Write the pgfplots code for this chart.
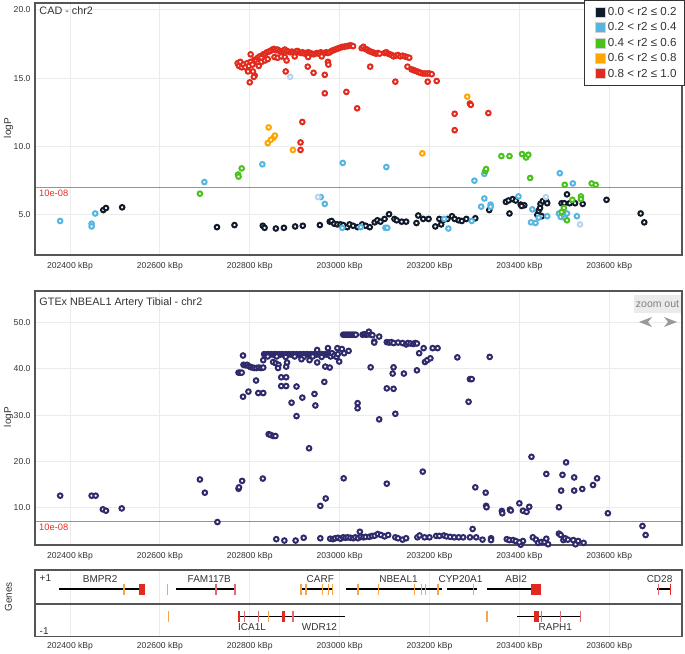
\documentclass[border=0pt]{standalone}
\usepackage{pgfplots}
\pgfplotsset{compat=1.18}
\usepackage{fontspec}
\setmainfont{Liberation Sans}
\definecolor{cblack}{HTML}{111A2B}
\definecolor{cblue}{HTML}{57B5DF}
\definecolor{cpale}{HTML}{B8D4EF}
\definecolor{cgreen}{HTML}{4AC21C}
\definecolor{corange}{HTML}{FFA500}
\definecolor{cred}{HTML}{E22A1E}
\definecolor{cpurple}{HTML}{2E2A6C}
\definecolor{cgrid}{HTML}{EBEBEB}
\definecolor{cframe}{HTML}{555555}
\definecolor{ctext}{HTML}{333333}
\definecolor{cthreshtxt}{HTML}{E0302A}
\definecolor{cexo}{HTML}{F5A54A}
\definecolor{cexp}{HTML}{DE6B74}
\definecolor{cexr}{HTML}{E3291F}
\pgfplotsset{
  panel/.style={
    scale only axis, width=647pt, xmin=202322, xmax=203762,
    scaled x ticks=false, scaled y ticks=false,
    axis line style={draw=cframe, line width=1.5pt},
    grid=major, major grid style={draw=cgrid, line width=1pt},
    major tick length=0pt,
    xtick={202400,202600,202800,203000,203200,203400,203600},
    xticklabels={202400 kBp,202600 kBp,202800 kBp,203000 kBp,203200 kBp,203400 kBp,203600 kBp},
    tick label style={font=\fontsize{8.6}{10}\selectfont, text=ctext},
    yticklabel style={xshift=-1pt},
  },
  thr/.style={draw=red, draw opacity=0.6, solid, line width=1.6pt, mark=none},
  pts/.style={only marks, mark=*, mark size=2.3pt, mark options={draw=#1, fill=white, line width=2pt}},
  legsq/.style={legend image code/.code={\path (-5pt,0pt); \draw[fill=#1, draw=gray!35, line width=0.6pt] (0pt,-5pt) rectangle (10pt,5pt);}},
}
\newcommand{\gf}{\fontsize{10}{11}\selectfont}
\begin{document}
\begin{tikzpicture}[x=1pt,y=1pt]
\useasboundingbox (0,0) rectangle (685,653);
% ---------------- top panel ----------------
\begin{axis}[panel, at={(35pt,398pt)}, anchor=south west, height=252pt,
  xticklabel style={yshift=-3.5pt},
  ymin=2.06, ymax=20.51, ytick={5,10,15,20}, yticklabels={5.0,10.0,15.0,20.0},
  legend style={at={(1.0046,1.012)}, anchor=north east, draw=ctext, line width=0.8pt,
    fill=white, font=\fontsize{11.6}{13}\selectfont, text=ctext, row sep=1.8pt,
    inner xsep=6pt, inner ysep=5pt, cells={anchor=west}},
  legend cell align=left]
\addplot[thr, forget plot] coordinates {(202322,7) (203762,7)};
\node[anchor=north west, inner sep=0pt, text=cthreshtxt, font=\fontsize{9.3}{10}\selectfont, yshift=-2.5pt] at (axis cs:202331,7) {10e-08};
\node[anchor=north west, inner sep=0pt, text=ctext, font=\fontsize{10.8}{12}\selectfont, xshift=4.3pt, yshift=-3pt] at (rel axis cs:0,1) {CAD - chr2};
% r2 0.0-0.2
\addplot[pts=cblack, forget plot] coordinates {
(202474,5.35) (202480,5.5) (202516,5.55) (202727,4.1) (202766,4.25) (202829,4.2) (202833,4.05) (202858,4.0) (202876,4.05) (202901,4.15) (202918,4.2) (202956,4.25) (202978,4.5) (202982,4.55) (202988,4.35) (202995,4.3) (203002,4.3) (203008,4.25) (203017,4.1) (203022,4.3) (203030,4.2) (203040,4.1) (203050,4.3) (203058,4.2) (203067,4.1) (203078,4.45) (203084,4.6) (203091,4.5) (203100,4.7) (203110,5.05) (203122,4.7) (203127,4.6) (203138,4.5) (203148,4.5) (203171,4.4) (203175,4.95) (203186,4.7) (203198,4.7) (203213,4.15) (203222,4.7) (203226,4.3) (203230,4.6) (203240,4.7) (203250,4.9) (203256,4.7) (203265,4.6) (203272,4.55) (203282,4.7) (203302,4.75) (203333,5.35) (203370,5.95) (203376,6.05) (203385,6.15) (203392,6.05) (203403,5.75) (203411,5.7) (203405,5.65) (203378,5.1) (203440,5.0) (203443,5.3) (203450,4.9) (203447,5.8) (203452,6.0) (203460,6.0) (203462,5.85) (203446,5.5) (203494,5.85) (203500,5.85) (203506,6.5) (203512,5.85) (203524,5.85) (203541,5.8) (203594,6.1) (203670,5.1) (203678,4.45)};
% r2 0.2-0.4
\addplot[pts=cblue, forget plot] coordinates {
(202378,4.55) (202448,4.35) (202448,4.15) (202456,5.1) (202699,7.4) (202828,8.7) (202958,6.3) (202967,5.8) (203007,8.8) (203006,4.05) (203047,4.1) (203102,4.05) (203106,4.05) (203104,8.5) (203233,4.7) (203242,4.0) (203294,4.55) (203300,7.5) (203322,6.2) (203322,8.0) (203315,5.6) (203336,5.75) (203336,5.6) (203398,6.35) (203429,5.4) (203426,4.45) (203436,4.4) (203443,4.8) (203462,4.9) (203490,8.05) (203519,7.3) (203488,5.1) (203492,4.85) (203500,4.9) (203506,5.1) (203502,4.75) (203528,4.9)};
\addplot[pts=cpale, forget plot] coordinates {(202890,15.1) (202952,6.3) (203459,6.3) (203535,4.3)};
% r2 0.4-0.6
\addplot[pts=cgreen, forget plot] coordinates {
(202689,6.55) (202774,7.95) (202775,7.8) (202782,8.4) (203324,8.2) (203326,8.35) (203360,9.3) (203378,9.3) (203406,9.45) (203415,9.2) (203420,9.4) (203424,7.7) (203501,7.2) (203561,7.3) (203570,7.2) (203518,6.1) (203537,6.35) (203537,6.15) (203499,5.5) (203494,5.2) (203506,4.6)};
% r2 0.6-0.8
\addplot[pts=corange, forget plot] coordinates {
(202842,11.4) (202853,10.65) (202840,10.25) (202847,10.5) (202856,10.8) (202896,9.75) (203184,9.5) (203284,13.65)};
% r2 0.8-1.0
\addplot[pts=cred, forget plot] coordinates {
(202773,16.1) (202776,15.9) (202779,16.2) (202782,15.8) (202786,16.0) (202790,15.8) (202794,16.1) (202798,15.9) (202802,16.2) (202806,16.0) (202810,16.35) (202814,16.3) (202818,16.5) (202822,16.6) (202826,16.5) (202830,16.75) (202834,16.8) (202838,16.9) (202842,16.95) (202846,17.0) (202850,17.1) (202854,17.15) (202858,17.05) (202862,17.1) (202866,17.0) (202870,16.95) (202874,17.0) (202878,17.1) (202882,17.0) (202886,16.95) (202890,16.9) (202894,16.95) (202898,16.9) (202902,16.95) (202906,17.0) (202910,16.9) (202914,16.85) (202918,16.9) (202922,16.8) (202926,16.85) (202930,16.9) (202934,16.85) (202938,16.8) (202942,16.75) (202946,16.8) (202950,16.85) (202954,16.8) (202958,16.9) (202962,16.8) (202966,16.85) (202970,16.9) (202974,16.85) (202978,16.9) (202982,17.0) (202986,17.05) (202990,17.1) (202994,17.15) (202998,17.2) (203002,17.25) (203006,17.3) (203010,17.3) (203014,17.35) (203018,17.35) (203022,17.4) (203026,17.4) (203030,17.35)
(202818,16.1) (202826,16.2) (202834,16.3) (202840,16.4) (202855,16.55) (202862,16.5) (202870,16.6) (202878,16.55) (202900,16.6) (202930,16.55) (202960,16.6)
(203049,17.2) (203053,17.3) (203057,17.15) (203061,17.1) (203065,17.0) (203069,16.95) (203073,16.9) (203077,16.85) (203081,16.8) (203085,16.85) (203089,16.8)
(203100,16.85) (203104,16.9) (203108,16.8) (203112,16.75) (203116,16.7) (203120,16.6) (203125,16.65) (203130,16.7) (203135,16.6) (203140,16.65) (203145,16.6) (203150,16.55) (203155,16.5)
(203160,15.65) (203164,15.6) (203168,15.55) (203172,15.5) (203176,15.45) (203180,15.4) (203185,15.35) (203190,15.35) (203195,15.35) (203200,15.35) (203205,15.3)
(202802,16.75) (202800,14.7) (202811,15.2) (202809,15.1) (202807,15.5) (202796,15.5) (202820,15.9) (202880,15.5) (202882,16.3) (202929,15.85) (202942,15.4) (202967,15.25) (202974,16.2) (202975,16.0) (202967,13.9) (203015,14.0) (203039,12.8) (203068,15.85) (203124,14.75) (203151,15.85) (203196,14.75) (203216,14.8) (203256,12.4) (203256,11.2) (203290,13.15) (203292,13.05) (203331,12.45) (202917,11.8) (202913,10.3) (202913,9.75)};
\addlegendimage{legsq=cblack}
\addlegendentry{0.0 < r2 ≤ 0.2}
\addlegendimage{legsq=cblue}
\addlegendentry{0.2 < r2 ≤ 0.4}
\addlegendimage{legsq=cgreen}
\addlegendentry{0.4 < r2 ≤ 0.6}
\addlegendimage{legsq=corange}
\addlegendentry{0.6 < r2 ≤ 0.8}
\addlegendimage{legsq=cred}
\addlegendentry{0.8 < r2 ≤ 1.0}
\end{axis}
% ---------------- GTEx panel ----------------
\begin{axis}[panel, at={(35pt,108pt)}, anchor=south west, height=254pt,
  xticklabel style={yshift=-3.5pt},
  ymin=1.94, ymax=56.85, ytick={10,20,30,40,50}, yticklabels={10.0,20.0,30.0,40.0,50.0}]
\addplot[thr] coordinates {(202322,7) (203762,7)};
\node[anchor=north west, inner sep=0pt, text=cthreshtxt, font=\fontsize{9.3}{10}\selectfont, yshift=-2.5pt] at (axis cs:202331,7) {10e-08};
\node[anchor=north west, inner sep=0pt, text=ctext, font=\fontsize{10.8}{12}\selectfont, xshift=4.3pt, yshift=-6.7pt] at (rel axis cs:0,1) {GTEx NBEAL1 Artery Tibial - chr2};
\addplot[pts=cpurple] coordinates {
(202378,12.6) (202448,12.6) (202457,12.6) (202473,9.65) (202480,9.35) (202515,9.85) (202689,16.1) (202700,13.25) (202728,6.9) (202775,14.1) (202776,14.4) (202783,15.8) (202829,16.3) (202842,25.9) (202846,25.75) (202852,25.5) (202857,25.5) (202932,22.85) (202859,3.2) (202877,2.9) (202902,2.9) (202920,3.5) (202957,3.4) (202957,10.4) (202969,12.0) (203009,16.35) (203105,15.2) (203185,17.8) (203302,14.4) (203325,13.25) (203326,10.4) (203327,10.1) (203361,9.3) (203362,8.8) (203379,9.6) (203381,9.4) (203400,10.95) (203408,9.35) (203416,9.1) (203422,10.2) (203427,21.0) (203460,17.3) (203488,10.1) (203493,13.7) (203496,17.1) (203504,19.8) (203522,16.55) (203522,13.7) (203540,14.05) (203564,14.9) (203573,16.35) (203597,8.8) (203674,6.05) (203681,4.1) (203296,5.4)
(202979,3.3) (202985,3.2) (202990,3.4) (202996,3.5) (203002,3.3) (203008,3.6) (203013,3.5) (203018,3.6) (203024,3.5) (203030,3.4) (203035,3.6) (203041,3.4) (203045,4.8) (203047,3.7) (203053,3.6) (203058,3.7) (203066,3.7) (203072,3.9) (203078,3.95) (203085,4.3) (203092,4.1) (203100,3.8) (203108,4.1) (203124,3.6) (203130,3.4) (203140,3.1) (203148,3.4) (203173,3.6) (203178,4.0) (203189,3.6) (203200,3.6) (203215,3.9) (203222,3.9) (203232,4.0) (203238,3.8) (203246,3.7) (203255,3.6) (203265,3.6) (203275,3.6) (203290,3.6) (203304,3.6) (203318,3.1) (203337,3.4) (203337,3.0) (203372,3.2) (203378,3.0) (203386,3.0) (203392,2.8) (203403,2.0) (203408,2.8) (203400,2.5) (203430,3.6) (203437,3.1) (203442,2.4) (203449,2.6) (203456,2.6) (203460,3.3) (203464,2.1) (203488,4.4) (203492,4.1) (203498,3.0) (203502,3.4) (203508,3.1) (203520,3.0) (203525,2.1) (203531,2.8) (203543,2.4)
(202775,39.2) (202778,39.2) (202782,39.2) (202785,42.9) (202785,34.0) (202797,35.1) (202786,40.9) (202790,40.8) (202794,40.9) (202798,40.6) (202802,40.4) (202806,40.3) (202810,40.2) (202815,40.2) (202820,40.3) (202825,40.2) (202830,40.3) (202814,37.5) (202819,34.8) (202830,34.8) (202830,41.9)
(202832,43.2) (202836,43.1) (202840,43.2) (202844,43.1) (202848,43.2) (202852,43.1) (202856,43.2) (202860,43.1) (202864,43.2) (202868,43.1) (202872,43.2) (202876,43.1) (202880,43.2) (202884,43.1) (202888,43.2) (202892,43.1) (202896,43.2) (202900,43.1) (202904,43.2) (202908,43.1) (202912,43.2) (202916,43.1) (202920,43.2) (202924,43.1) (202928,43.2) (202932,43.1) (202936,43.2) (202940,43.1) (202944,43.2) (202948,43.1) (202952,43.2) (202956,43.1) (202960,43.2) (202964,43.1) (202968,43.2) (202972,43.1) (202976,43.2) (202980,43.1) (202984,43.2) (202988,43.0)
(202840,42.7) (202860,42.7) (202880,42.6) (202900,42.7) (202920,42.6) (202940,42.7) (202960,42.6) (202980,42.7)
(202852,41.5) (202858,41.2) (202864,40.9) (202863,40.2) (202870,38.2) (202881,38.2) (202870,36.3) (202881,36.3) (202881,40.5) (202883,41.4) (202893,32.7) (202904,36.2) (202904,29.8) (202917,33.8) (202915,42.1) (202933,41.9) (202944,34.6) (202946,32.1) (202950,41.4) (202968,40.5) (202978,40.3) (202966,37.2) (202950,44.1) (202974,44.5) (202995,44.5) (203005,44.3) (203020,43.9) (202983,43.4) (202988,42.9) (202993,42.6) (202996,43.2) (202999,41.6) (203010,43.4)
(203008,47.4) (203012,47.4) (203016,47.4) (203020,47.4) (203024,47.4) (203028,47.4) (203032,47.4) (203036,47.4) (203051,47.4) (203055,47.5) (203059,47.4) (203063,47.5) (203065,48.05) (203069,47.4) (203073,47.3) (203077,45.9) (203077,45.7) (203088,47.0) (203069,40.35)
(203105,45.8) (203110,45.7) (203115,45.8) (203120,45.6) (203130,45.7) (203140,45.6) (203148,45.3) (203152,45.6) (203158,45.5) (203164,45.4) (203168,45.6) (203172,45.5)
(203177,43.4) (203187,44.5) (203190,41.5) (203195,41.9) (203202,42.3) (203207,44.5) (203218,44.5) (203262,42.5) (203334,42.6) (203120,40.35) (203118,39.0) (203143,39.0) (203172,39.7) (203105,35.8) (203120,35.7) (203040,32.6) (203040,31.5) (203124,30.3) (203088,29.1) (203287,32.9) (203290,37.8) (203294,37.8)};
\end{axis}
% ---------------- Genes panel ----------------
\begin{axis}[panel, at={(35pt,16.3pt)}, anchor=south west, height=66.7pt,
  ymin=0, ymax=1, ytick=\empty, ymajorgrids=false, xticklabel style={yshift=-2.5pt}]
\addplot[cframe, line width=1.2pt] coordinates {(202322,0.49) (203762,0.49)};
\node[anchor=north west, inner sep=0pt, text=ctext, font=\gf, xshift=4.5pt, yshift=-4pt] at (rel axis cs:0,1) {+1};
\node[anchor=south west, inner sep=0pt, text=ctext, font=\gf, xshift=4.5pt, yshift=2pt] at (rel axis cs:0,0) {-1};
% +1 strand gene bodies
\addplot[black, line width=1.6pt] coordinates {(202376,0.711) (202567,0.711)};
\addplot[black, line width=1.6pt] coordinates {(202635,0.711) (202767,0.711)};
\addplot[black, line width=1.6pt] coordinates {(202912,0.711) (202986,0.711)};
\addplot[black, line width=1.6pt] coordinates {(203015,0.711) (203228,0.711)};
\addplot[black, line width=1.6pt] coordinates {(203240,0.711) (203306,0.711)};
\addplot[black, line width=1.6pt] coordinates {(203328,0.711) (203431,0.711)};
\addplot[black, line width=1.6pt] coordinates {(203707,0.711) (203738,0.711)};
% +1 exons
\addplot[cexo, line width=1.3pt] coordinates {(202520,0.63) (202520,0.79)};
\addplot[cexr, line width=5.7pt] coordinates {(202560,0.63) (202560,0.79)};
\addplot[cexo, line width=1.3pt] coordinates {(202617,0.63) (202617,0.79)};
\addplot[cexp, line width=1.3pt] coordinates {(202725,0.63) (202725,0.79)};
\addplot[cexp, line width=1.3pt] coordinates {(202767,0.63) (202767,0.79)};
\addplot[cexo, line width=1.3pt] coordinates {(202914,0.63) (202914,0.79)};
\addplot[cexo, line width=1.3pt] coordinates {(202925,0.63) (202925,0.79)};
\addplot[cexo, line width=1.3pt] coordinates {(202962,0.63) (202962,0.79)};
\addplot[cexo, line width=1.3pt] coordinates {(202975,0.63) (202975,0.79)};
\addplot[cexo, line width=1.6pt] coordinates {(202984,0.63) (202984,0.79)};
\addplot[cexo, line width=1.3pt] coordinates {(203041,0.63) (203041,0.79)};
\addplot[cexo, line width=1.3pt] coordinates {(203087,0.63) (203087,0.79)};
\addplot[cexo, line width=1.3pt] coordinates {(203167,0.63) (203167,0.79)};
\addplot[cexo, line width=1.3pt] coordinates {(203182,0.63) (203182,0.79)};
\addplot[cexo, line width=1.3pt] coordinates {(203191,0.63) (203191,0.79)};
\addplot[cexo, line width=1.8pt] coordinates {(203219,0.63) (203219,0.79)};
\addplot[cexo, line width=1.3pt] coordinates {(203298,0.63) (203298,0.79)};
\addplot[cexr, line width=9.7pt] coordinates {(203437.5,0.63) (203437.5,0.79)};
\addplot[cexp, line width=1.3pt] coordinates {(203709,0.63) (203709,0.79)};
\addplot[cexr, line width=1.6pt] coordinates {(203736,0.63) (203736,0.79)};
% -1 strand gene bodies
\addplot[black, line width=1.6pt] coordinates {(202773,0.30) (203012,0.30)};
\addplot[black, line width=1.6pt] coordinates {(203395,0.30) (203536,0.30)};
% -1 exons
\addplot[cexo, line width=1.3pt] coordinates {(202619,0.22) (202619,0.38)};
\addplot[cexr, line width=2.7pt] coordinates {(202776,0.22) (202776,0.38)};
\addplot[cexp, line width=1.3pt] coordinates {(202788,0.22) (202788,0.38)};
\addplot[cexp, line width=1.3pt] coordinates {(202819,0.22) (202819,0.38)};
\addplot[cexo, line width=1.6pt] coordinates {(202842,0.22) (202842,0.38)};
\addplot[cexr, line width=3.3pt] coordinates {(202875,0.22) (202875,0.38)};
\addplot[cexp, line width=1.3pt] coordinates {(202896,0.22) (202896,0.38)};
\addplot[cexo, line width=1.3pt] coordinates {(203328,0.22) (203328,0.38)};
\addplot[cexr, line width=4.3pt] coordinates {(203438,0.22) (203438,0.38)};
\addplot[cexp, line width=1.3pt] coordinates {(203450,0.22) (203450,0.38)};
\addplot[cexp, line width=1.3pt] coordinates {(203491,0.22) (203491,0.38)};
\addplot[cexp, line width=1.3pt] coordinates {(203536,0.22) (203536,0.38)};
% gene names
\node[font=\gf, text=ctext] at (axis cs:202467,0.86) {BMPR2};
\node[font=\gf, text=ctext] at (axis cs:202710,0.86) {FAM117B};
\node[font=\gf, text=ctext] at (axis cs:202957,0.86) {CARF};
\node[font=\gf, text=ctext] at (axis cs:203131,0.86) {NBEAL1};
\node[font=\gf, text=ctext] at (axis cs:203269,0.86) {CYP20A1};
\node[font=\gf, text=ctext] at (axis cs:203393,0.86) {ABI2};
\node[font=\gf, text=ctext] at (axis cs:203712,0.86) {CD28};
\node[font=\gf, text=ctext] at (axis cs:202805,0.15) {ICA1L};
\node[font=\gf, text=ctext] at (axis cs:202955,0.15) {WDR12};
\node[font=\gf, text=ctext] at (axis cs:203480,0.15) {RAPH1};
\end{axis}
% side labels
\node[rotate=90, font=\fontsize{10}{11}\selectfont, text=ctext] at (8.5,525) {logP};
\node[rotate=90, font=\fontsize{10}{11}\selectfont, text=ctext] at (8.5,236) {logP};
\node[rotate=90, font=\fontsize{10}{11}\selectfont, text=ctext] at (8.5,56) {Genes};
% zoom out control
\node[fill=cgrid, text=gray, font=\fontsize{10.5}{11}\selectfont, inner xsep=2pt, minimum height=18pt, anchor=center] at (657.5,349) {zoom out};
\fill[gray!80] (639,331) -- (652,336) -- (648,331) -- (652,326) -- cycle;
\fill[gray!80] (677,331) -- (664,336) -- (668,331) -- (664,326) -- cycle;
\end{tikzpicture}
\end{document}
